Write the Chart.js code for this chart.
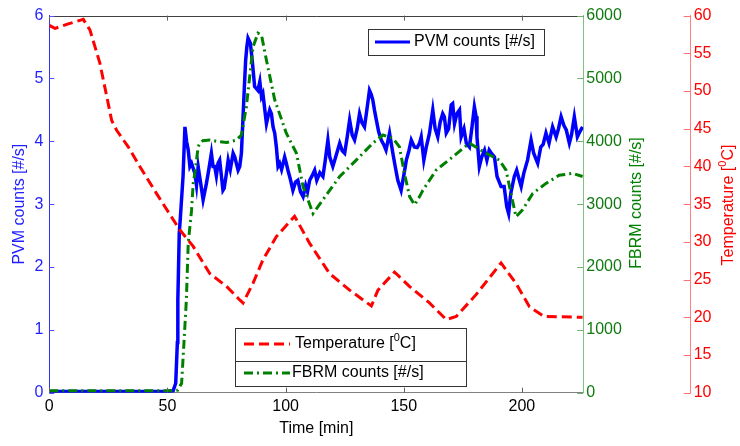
<!DOCTYPE html>
<html>
<head>
<meta charset="utf-8">
<script src="https://cdn.jsdelivr.net/npm/chart.js@4/dist/chart.umd.min.js"></script>
<style>
  body { margin: 0; background: #fff; }
  #wrap { width: 740px; height: 446px; position: relative; }
</style>
</head>
<body>
<div id="wrap"><canvas id="chart"></canvas></div>
<script>
// Tick labels
const timeTicks = [0, 50, 100, 150, 200];
const pvmTicks = [0, 1, 2, 3, 4, 5, 6];
const fbrmTicks = [0, 1000, 2000, 3000, 4000, 5000, 6000];
const tempTicks = [10, 15, 20, 25, 30, 35, 40, 45, 50, 55, 60];

// PVM counts [#/s]
const pvmTime = [
  0, 10, 20, 30, 40, 50, 52.4, 53.5, 54.2, 54.4, 55, 55.5, 56.6, 57.4, 58.1, 58.8, 59.5, 60.2,
  61.6, 62.3, 63, 64, 65.1, 66.5, 67.5, 68.6, 69.3, 70, 70.7, 71.4, 72.1, 73.5, 74, 75, 75.7,
  76.6, 77.8, 78.5, 79.9, 80.6, 81.3, 82, 82.6, 83.1, 83.6, 84.1, 85.1, 86, 86.9, 88.3, 89.1,
  89.8, 90.4, 91.9, 92.6, 93.3, 94, 94.7, 95.4, 96.1, 96.8, 97.5, 98.3, 99.6, 100.3, 101, 102,
  103.1, 104.2, 105.2, 106.3, 107.4, 108.5, 109.3, 110.2, 111.2, 112.3, 113.2, 114.5, 115.8,
  116.8, 117.9, 118.7, 120, 121.2, 122.9, 124, 125, 126, 127.1, 128.2, 129.2, 130.3, 131.3,
  132.3, 133.4, 134.4, 135.5, 136.2, 136.9, 137.6, 138.4, 139.4, 140.5, 141.5, 142.5, 144,
  145.4, 146.4, 147.5, 148.9, 150, 151.1, 152.2, 153.2, 154.5, 155.7, 156.7, 157.4, 158.5,
  159.5, 160.9, 162.3, 163.3, 164.4, 165.4, 166.5, 167.2, 168, 169, 170.1, 170.7, 171.5, 172.5,
  173.6, 174.3, 175.5, 176.5, 177.8, 178.8, 179.9, 180.6, 181, 182, 183, 184.2, 185.2, 186.2,
  187.3, 188.4, 189.5, 191.2, 192.5, 193.6, 194.4, 195.3, 196.8, 197.8, 198.8, 199.7, 200.8,
  202.4, 203.9, 205, 206.7, 208, 209, 210.2, 211.5, 213, 214.5, 215.5, 216.6, 217.8, 218.8,
  220.1, 221, 222.2, 223.5, 224.5, 225.7
];
const pvmCounts = [
  0.02, 0.02, 0.02, 0.02, 0.02, 0.02, 0.03, 0.15, 0.8, 1.47, 2.54, 2.8, 3.44, 4.23, 4.0, 3.86, 3.6, 3.65,
  3.49, 3.3, 3.6, 3.35, 3.07, 3.33, 3.55, 3.81, 3.6, 3.6, 3.45, 3.65, 3.7, 3.22, 3.25, 3.5, 3.7,
  3.55, 3.81, 3.75, 3.54, 3.6, 3.81, 4.39, 4.9, 5.29, 5.5, 5.64, 5.56, 5.24, 4.87, 4.81, 4.95,
  4.71, 4.76, 4.28, 4.4, 4.5, 4.44, 4.23, 4.13, 3.91, 3.6, 3.65, 3.55, 3.75, 3.65, 3.54, 3.4,
  3.22, 3.35, 3.38, 3.2, 3.12, 3.3, 3.2, 3.38, 3.45, 3.54, 3.38, 3.5, 3.44,
  3.7, 4.02, 3.75, 3.6, 3.75, 3.97, 3.85, 3.81, 4.05, 4.34, 4.1, 4.02, 4.2, 4.44,
  4.3, 4.23, 4.5, 4.81, 4.75, 4.66, 4.5, 4.34, 4.15, 4.02, 3.95, 3.86, 4.13,
  3.81, 3.6, 3.38, 3.22, 3.45, 3.7, 3.85, 4.02, 3.91, 3.9, 3.97, 4.07, 3.7,
  3.9, 4.13, 4.5, 4.2, 4.07, 4.3, 4.44, 4.39, 4.13, 4.2, 4.58, 4.6, 4.28, 4.44,
  4.5, 4.07, 4.2, 3.97, 3.91, 4.2, 4.55, 4.4, 4.07, 3.6, 3.75, 3.86, 3.7, 3.86,
  3.8, 3.75, 3.44, 3.28, 3.28, 2.96, 2.85, 3.17, 3.44, 3.54, 3.4, 3.28, 3.49,
  3.7, 4.02, 3.81, 3.65, 3.91, 3.95, 4.13, 3.97, 4.23, 4.07, 4.2, 4.39, 4.25, 4.18,
  3.97, 4.1, 4.39, 4.07, 4.15, 4.23
];

// FBRM counts [#/s]
const fbrmTime = [
  0, 20, 40, 52, 54.4, 56, 57.3, 58, 58.8, 60.2, 60.9, 61.6, 63, 63.7, 65, 67.9, 71, 75, 79.2,
  81.3, 83.4, 86.2, 88.3, 89.8, 91.9, 95.4, 100.3, 104.6, 107.4, 111.6, 115.8, 122.9, 129.9,
  136.9, 141.2, 145.4, 148.2, 150.3, 152.5, 154.6, 156.7, 158.1, 160.9, 163.7, 170.7, 177.8,
  184.9, 190.5, 193.3, 195.4, 197.5, 200.3, 204.6, 210.2, 215.8, 221.5, 225.7
];
const fbrmCounts = [
  30, 30, 30, 30, 40, 150, 1000, 1470, 2380, 2900, 3330, 3490, 3910, 3970, 4010, 4020, 4000, 3980, 4020,
  4100, 4550, 5500, 5720, 5690, 5290, 4660, 4130, 3810, 3280, 2850, 3070, 3440, 3700,
  3970, 4100, 4050, 3910, 3490, 3120, 2990, 3120, 3220, 3380, 3540, 3750, 3970,
  3810, 3700, 3540, 3170, 2800, 2910, 3170, 3330, 3460, 3490, 3440
];

// Temperature [0C]
const tempTime = [
  0, 2.4, 8, 14.4, 17.2, 21.4, 26.4, 28.5, 33.4, 38.3, 45.4, 55.2, 60.9, 67.9, 75, 80.6, 82,
  86.2, 90.4, 96.1, 103.8, 110.2, 118.6, 127.1, 136.3, 139.1, 146.1, 152.4, 160.9, 168, 172.2,
  180.6, 191.2, 197.5, 203.2, 209.5, 225.7
];
const tempValues = [
  58.7, 58.3, 58.9, 59.5, 58.1, 53.7, 46.1, 44.8, 42.6, 40.0, 36.4, 31.6, 29.4, 25.8, 24.1, 22.3, 21.9,
  24.5, 27.6, 30.7, 33.4, 29.8, 25.8, 23.6, 21.5, 23.6, 26.0, 24.1, 21.9, 19.7, 20.1,
  23.0, 27.2, 24.5, 21.4, 20.1, 20.0
];

const FONT = '"Liberation Sans", Arial, sans-serif';
const BLUE = '#0000ff';
const GREEN = '#008000';
const RED = '#ff0000';
const RED_DASH = [10, 5];
const GREEN_DASH = [9, 4, 2, 4];

function toPoints(xs, ys) {
  return xs.map((x, i) => ({ x: x, y: ys[i] }));
}

function fixedTicks(values) {
  return scale => { scale.ticks = values.map(v => ({ value: v })); };
}

// draw a label where some parts are superscript
function drawParts(ctx, parts, x, y, align) {
  const widths = parts.map(p => {
    ctx.font = (p[1] ? '11px ' : '16px ') + FONT;
    return ctx.measureText(p[0]).width;
  });
  const total = widths.reduce((a, b) => a + b, 0);
  let cx = align === 'center' ? x - total / 2 : x;
  ctx.textAlign = 'left';
  ctx.textBaseline = 'middle';
  parts.forEach((p, i) => {
    ctx.font = (p[1] ? '11px ' : '16px ') + FONT;
    ctx.fillText(p[0], cx, p[1] ? y - 6 : y);
    cx += widths[i];
  });
}

function strokeLine(ctx, x0, y0, x1, y1) {
  ctx.beginPath();
  ctx.moveTo(x0, y0);
  ctx.lineTo(x1, y1);
  ctx.stroke();
}

const decorations = {
  id: 'decorations',
  afterDraw(chart) {
    const ctx = chart.ctx;
    const area = chart.chartArea;
    const { x, y, yF, yT } = chart.scales;
    ctx.save();
    ctx.lineWidth = 1;

    // top edge of the box
    ctx.strokeStyle = '#404040';
    strokeLine(ctx, area.left, Math.round(area.top) + 0.5, area.right, Math.round(area.top) + 0.5);

    // inward tick marks
    x.ticks.forEach(t => {
      const px = Math.round(x.getPixelForValue(t.value)) + 0.5;
      ctx.strokeStyle = '#606060';
      strokeLine(ctx, px, area.bottom, px, area.bottom - 5);
      strokeLine(ctx, px, area.top, px, area.top + 5);
    });
    y.ticks.forEach(t => {
      const py = Math.round(y.getPixelForValue(t.value)) + 0.5;
      ctx.strokeStyle = '#5050ff';
      strokeLine(ctx, area.left, py, area.left + 5, py);
    });
    yF.ticks.forEach(t => {
      const py = Math.round(yF.getPixelForValue(t.value)) + 0.5;
      ctx.strokeStyle = '#70b070';
      strokeLine(ctx, yF.left, py, yF.left - 6, py);
    });
    yT.ticks.forEach(t => {
      const py = Math.round(yT.getPixelForValue(t.value)) + 0.5;
      ctx.strokeStyle = '#ff7070';
      strokeLine(ctx, yT.left, py, yT.left - 7, py);
    });

    // right axis titles, reading bottom to top
    ctx.save();
    ctx.translate(637, 203);
    ctx.rotate(-Math.PI / 2);
    ctx.fillStyle = GREEN;
    drawParts(ctx, [['FBRM counts [#/s]', false]], 0, 0, 'center');
    ctx.restore();

    ctx.save();
    ctx.translate(729, 205);
    ctx.rotate(-Math.PI / 2);
    ctx.fillStyle = RED;
    drawParts(ctx, [['Temperature [', false], ['0', true], ['C]', false]], 0, 0, 'center');
    ctx.restore();

    // legend boxes
    ctx.fillStyle = '#fff';
    ctx.strokeStyle = '#333';
    ctx.fillRect(368, 29, 176, 26);
    ctx.strokeRect(368.5, 29.5, 176, 26);
    ctx.fillRect(235, 328, 232, 59);
    ctx.strokeRect(235.5, 328.5, 231, 58);
    strokeLine(ctx, 235, 361.5, 467, 361.5);

    ctx.lineWidth = 3;
    ctx.strokeStyle = BLUE;
    strokeLine(ctx, 375, 42, 410, 42);
    ctx.strokeStyle = RED;
    ctx.setLineDash(RED_DASH);
    strokeLine(ctx, 244, 344, 290, 344);
    ctx.strokeStyle = GREEN;
    ctx.setLineDash(GREEN_DASH);
    strokeLine(ctx, 244, 373, 290, 373);
    ctx.setLineDash([]);

    ctx.fillStyle = '#000';
    drawParts(ctx, [['PVM counts [#/s]', false]], 414, 42, 'left');
    drawParts(ctx, [['Temperature [', false], ['0', true], ['C]', false]], 295, 344, 'left');
    drawParts(ctx, [['FBRM counts [#/s]', false]], 292, 373, 'left');

    ctx.restore();
  }
};

const tickFont = { family: FONT, size: 16 };

new Chart(document.getElementById('chart'), {
  type: 'line',
  data: {
    datasets: [
      {
        label: 'Temperature',
        data: toPoints(tempTime, tempValues),
        yAxisID: 'yT',
        borderColor: RED,
        borderWidth: 3,
        borderDash: RED_DASH,
        pointRadius: 0,
        tension: 0,
        fill: false
      },
      {
        label: 'FBRM counts',
        data: toPoints(fbrmTime, fbrmCounts),
        yAxisID: 'yF',
        borderColor: GREEN,
        borderWidth: 3,
        borderDash: GREEN_DASH,
        pointRadius: 0,
        tension: 0,
        fill: false
      },
      {
        label: 'PVM counts',
        data: toPoints(pvmTime, pvmCounts),
        yAxisID: 'y',
        borderColor: BLUE,
        borderWidth: 3.5,
        pointRadius: 0,
        tension: 0,
        fill: false
      }
    ]
  },
  options: {
    responsive: true,
    maintainAspectRatio: false,
    animation: false,
    layout: { padding: { top: 15.5, left: 0, right: 0, bottom: 0 } },
    plugins: {
      legend: { display: false },
      tooltip: { enabled: false }
    },
    scales: {
      x: {
        type: 'linear',
        min: 0,
        max: 226,
        afterBuildTicks: fixedTicks(timeTicks),
        afterFit: s => { s.height = 53.3; },
        grid: { display: false, drawTicks: false },
        border: { display: true, color: '#808080', width: 1 },
        ticks: { color: '#000', font: tickFont, padding: 4, maxRotation: 0, autoSkip: false, callback: v => String(v) },
        title: { display: true, text: 'Time [min]', color: '#000', font: tickFont, padding: { top: 0, bottom: 8 } }
      },
      y: {
        position: 'left',
        min: 0,
        max: 6,
        afterBuildTicks: fixedTicks(pvmTicks),
        afterFit: s => { s.width = 49.3; },
        grid: { display: false, drawTicks: false },
        border: { display: true, color: '#3030ff', width: 1 },
        ticks: { color: '#1f1fff', font: tickFont, padding: 6, autoSkip: false, callback: v => String(v) },
        title: { display: true, text: 'PVM counts [#/s]', color: '#1f1fff', font: tickFont, padding: { top: 10, bottom: 0 } }
      },
      yF: {
        position: 'right',
        min: 0,
        max: 6000,
        afterBuildTicks: fixedTicks(fbrmTicks),
        afterFit: s => { s.width = 107.4; },
        grid: { display: false, drawTicks: false },
        border: { display: true, color: '#80c080', width: 1 },
        ticks: { color: '#107a10', font: tickFont, padding: 3, autoSkip: false, callback: v => String(v) }
      },
      yT: {
        position: 'right',
        min: 10,
        max: 60,
        afterBuildTicks: fixedTicks(tempTicks),
        afterFit: s => { s.width = 49.3; },
        grid: { display: false, drawTicks: false },
        border: { display: true, color: '#ff8080', width: 1 },
        ticks: { color: '#ff0000', font: tickFont, padding: 3, autoSkip: false, callback: v => String(v) }
      }
    }
  },
  plugins: [decorations]
});
</script>
</body>
</html>
